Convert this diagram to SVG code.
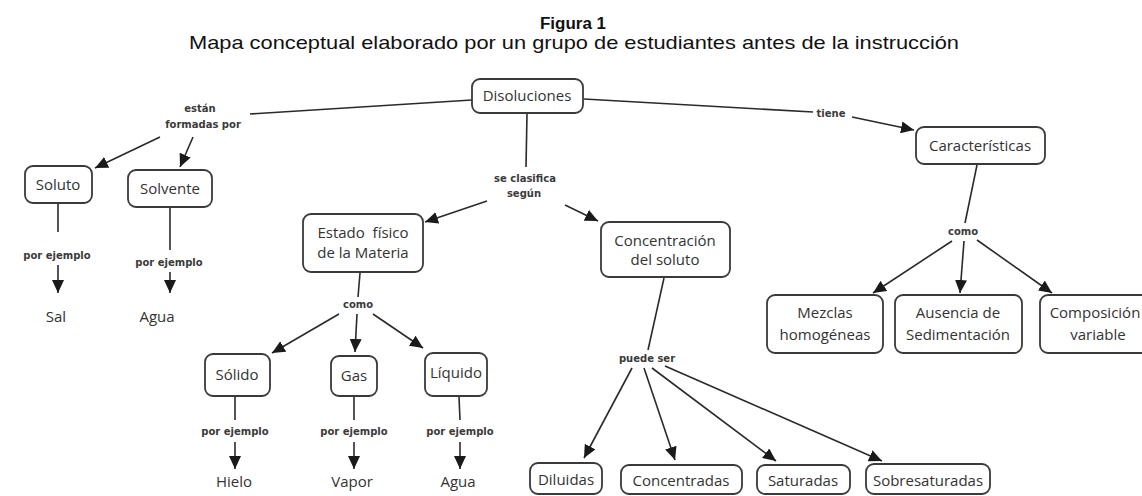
<svg xmlns="http://www.w3.org/2000/svg" width="1142" height="496" viewBox="0 0 1142 496">
<defs>
<marker id="ah" markerUnits="userSpaceOnUse" markerWidth="14" markerHeight="12" refX="13" refY="6" orient="auto">
<path d="M0,0 L13,6 L0,12 z" fill="#1a1a1a"/>
</marker>
<style>
.box{fill:#fff;stroke:#3a3a3a;stroke-width:1.8}
.nt{font-family:"Open Sans","Noto Sans",sans-serif;font-size:15px;fill:#333;text-anchor:middle}
.lt{font-family:"DejaVu Sans",sans-serif;font-size:10px;font-weight:bold;fill:#3a3a3a;text-anchor:middle}
.ln{stroke:#2a2a2a;stroke-width:1.6;fill:none}
.ar{stroke:#2a2a2a;stroke-width:1.6;fill:none;marker-end:url(#ah)}
.ti{font-family:"Liberation Sans",Arial,sans-serif;fill:#111;text-anchor:middle}
</style>
</defs>
<rect width="1142" height="496" fill="#fff"/>
<g id="title">
<text class="ti" x="573" y="29" font-size="16" font-weight="bold" textLength="66" lengthAdjust="spacingAndGlyphs">Figura 1</text>
<text class="ti" x="574" y="49" font-size="19" textLength="770" lengthAdjust="spacingAndGlyphs">Mapa conceptual elaborado por un grupo de estudiantes antes de la instrucción</text>
</g>
<g id="connectors">
<line class="ln" x1="472" y1="100" x2="250" y2="114"/>
<line class="ar" x1="160" y1="137" x2="95" y2="168"/>
<line class="ar" x1="193" y1="137" x2="180" y2="167"/>
<line class="ln" x1="58" y1="204" x2="58" y2="232"/>
<line class="ar" x1="58" y1="265" x2="58" y2="293"/>
<line class="ln" x1="170" y1="208" x2="170" y2="250"/>
<line class="ar" x1="170" y1="272" x2="170" y2="293"/>
<line class="ln" x1="527" y1="114" x2="526" y2="167"/>
<line class="ar" x1="487" y1="201" x2="425" y2="222"/>
<line class="ar" x1="565" y1="205" x2="598" y2="221"/>
<line class="ln" x1="584" y1="99" x2="813" y2="112"/>
<line class="ar" x1="852" y1="117" x2="914" y2="130"/>
<line class="ln" x1="977" y1="165" x2="965" y2="223"/>
<line class="ar" x1="952" y1="241" x2="873" y2="293"/>
<line class="ar" x1="964" y1="241" x2="960" y2="293"/>
<line class="ar" x1="977" y1="240" x2="1052" y2="293"/>
<line class="ln" x1="360" y1="273" x2="358" y2="297"/>
<line class="ar" x1="339" y1="314" x2="272" y2="353"/>
<line class="ar" x1="357" y1="314" x2="355" y2="352"/>
<line class="ar" x1="373" y1="314" x2="423" y2="348"/>
<line class="ln" x1="235" y1="397" x2="235" y2="420"/>
<line class="ar" x1="235" y1="442" x2="235" y2="469"/>
<line class="ln" x1="354" y1="397" x2="354" y2="420"/>
<line class="ar" x1="354" y1="442" x2="354" y2="469"/>
<line class="ln" x1="459" y1="397" x2="460" y2="420"/>
<line class="ar" x1="460" y1="442" x2="460" y2="469"/>
<line class="ln" x1="664" y1="278" x2="648" y2="350"/>
<line class="ar" x1="632" y1="368" x2="584" y2="458"/>
<line class="ar" x1="644" y1="368" x2="675" y2="460"/>
<line class="ar" x1="652" y1="368" x2="776" y2="461"/>
<line class="ar" x1="665" y1="366" x2="882" y2="461"/>
<text class="lt" x="200" y="112">están</text>
<text class="lt" x="203" y="128">formadas por</text>
<text class="lt" x="525" y="182">se clasifica</text>
<text class="lt" x="524" y="197">según</text>
<text class="lt" x="831" y="117">tiene</text>
<text class="lt" x="963" y="235">como</text>
<text class="lt" x="358" y="308">como</text>
<text class="lt" x="57" y="259">por ejemplo</text>
<text class="lt" x="169" y="266">por ejemplo</text>
<text class="lt" x="235" y="435">por ejemplo</text>
<text class="lt" x="354" y="435">por ejemplo</text>
<text class="lt" x="460" y="435">por ejemplo</text>
<text class="lt" x="647" y="362">puede ser</text>
</g>
<g id="n-disoluciones"><rect class="box" x="472" y="79" width="111" height="34" rx="8"/><text class="nt" x="527" y="101">Disoluciones</text></g>
<g id="n-soluto"><rect class="box" x="25" y="166" width="67" height="37" rx="8"/><text class="nt" x="58" y="190">Soluto</text></g>
<g id="n-solvente"><rect class="box" x="128" y="170" width="84" height="37" rx="8"/><text class="nt" x="170" y="194">Solvente</text></g>
<g id="n-sal"><text class="nt" x="56" y="322">Sal</text></g>
<g id="n-agua1"><text class="nt" x="157" y="322">Agua</text></g>
<g id="n-estado"><rect class="box" x="303" y="214" width="120" height="58" rx="8"/><text class="nt" x="363" y="238" style="white-space:pre">Estado  físico</text><text class="nt" x="363" y="258">de la Materia</text></g>
<g id="n-concentracion"><rect class="box" x="601" y="222" width="129" height="55" rx="8"/><text class="nt" x="665" y="246">Concentración</text><text class="nt" x="665" y="265">del soluto</text></g>
<g id="n-caracteristicas"><rect class="box" x="916" y="127" width="129" height="37" rx="8"/><text class="nt" x="980" y="151">Características</text></g>
<g id="n-mezclas"><rect class="box" x="767" y="295" width="116" height="58" rx="8"/><text class="nt" x="825" y="318">Mezclas</text><text class="nt" x="825" y="340">homogéneas</text></g>
<g id="n-ausencia"><rect class="box" x="895" y="295" width="127" height="58" rx="8"/><text class="nt" x="958" y="318">Ausencia de</text><text class="nt" x="958" y="340">Sedimentación</text></g>
<g id="n-composicion"><rect class="box" x="1040" y="295" width="120" height="58" rx="8"/><text class="nt" x="1095" y="318">Composición</text><text class="nt" x="1098" y="340">variable</text></g>
<g id="n-solido"><rect class="box" x="205" y="354" width="65" height="42" rx="8"/><text class="nt" x="237" y="380">Sólido</text></g>
<g id="n-gas"><rect class="box" x="331" y="356" width="46" height="40" rx="8"/><text class="nt" x="354" y="381">Gas</text></g>
<g id="n-liquido"><rect class="box" x="425" y="353" width="62" height="43" rx="8"/><text class="nt" x="456" y="378">Líquido</text></g>
<g id="n-hielo"><text class="nt" x="234" y="487">Hielo</text></g>
<g id="n-vapor"><text class="nt" x="352" y="487">Vapor</text></g>
<g id="n-agua2"><text class="nt" x="458" y="487">Agua</text></g>
<g id="n-diluidas"><rect class="box" x="530" y="463" width="72" height="31" rx="8"/><text class="nt" x="566" y="485">Diluidas</text></g>
<g id="n-concentradas"><rect class="box" x="621" y="465" width="121" height="29" rx="8"/><text class="nt" x="681" y="486">Concentradas</text></g>
<g id="n-saturadas"><rect class="box" x="757" y="465" width="93" height="29" rx="8"/><text class="nt" x="803" y="486">Saturadas</text></g>
<g id="n-sobresaturadas"><rect class="box" x="866" y="464" width="124" height="30" rx="8"/><text class="nt" x="928" y="486">Sobresaturadas</text></g>
</svg>
